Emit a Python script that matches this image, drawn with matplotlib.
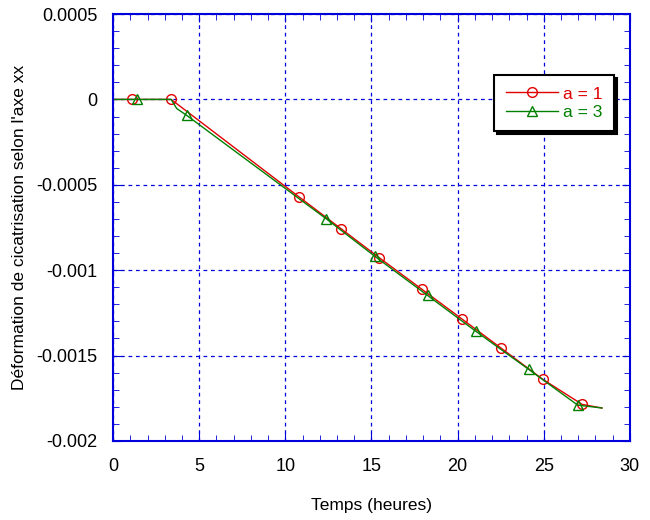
import matplotlib
matplotlib.use("Agg")
import matplotlib.pyplot as plt
from matplotlib.ticker import MultipleLocator, FuncFormatter

plt.rcParams['font.family'] = ['Liberation Sans', 'DejaVu Sans']

# courbe a = 1 (premier et dernier points sans marqueur)
t_a1 = [0, 1.09, 3.37, 10.81, 13.23, 15.45, 17.93, 20.23, 22.52, 24.93, 27.23, 28.38]
d_a1 = [0, 0, 0, -0.000572, -0.000757, -0.000927, -0.001112, -0.001284,
        -0.001456, -0.001638, -0.001786, -0.001807]

# courbe a = 3
t_a3 = [0, 1.38, 3.37, 3.69, 4.28, 12.36, 15.2, 18.26, 21.06, 24.13, 26.97, 28.38]
d_a3 = [0, 0, 0, -0.000053, -0.000094, -0.000698, -0.000919, -0.001148,
        -0.001358, -0.001581, -0.00179, -0.001807]

fig = plt.figure(figsize=(6.5, 5.2), dpi=100)
ax = fig.add_axes([0.174, 0.152, 0.795, 0.821])

bleu = '#0000dd'
ax.plot(t_a1, d_a1, color='#e00000', lw=1, marker='o', ms=7, mfc='none',
        mec='#e00000', markevery=list(range(1, 11)), label='a = 1')
ax.plot(t_a3, d_a3, color='#008000', lw=1, marker='^', ms=7, mfc='none',
        mec='#008000', markevery=[1, 4, 5, 6, 7, 8, 9, 10], label='a = 3')

ax.set_xlim(0, 30)
ax.set_ylim(-0.002, 0.0005)
ax.xaxis.set_major_locator(MultipleLocator(5))
ax.xaxis.set_minor_locator(MultipleLocator(1))
ax.yaxis.set_major_locator(MultipleLocator(0.0005))
ax.yaxis.set_minor_locator(MultipleLocator(0.0001))
ax.yaxis.set_major_formatter(FuncFormatter(lambda v, p: '%g' % v))

ax.grid(True, which='major', color=bleu, ls=(0, (3, 3)), lw=0.9)
for s in ax.spines.values():
    s.set_color(bleu)
    s.set_linewidth(1.5)
ax.tick_params(which='both', direction='in', top=True, right=True, color=bleu)
ax.tick_params(which='major', length=6, labelsize=13)
ax.tick_params(axis='x', which='major', pad=12)
ax.tick_params(axis='y', which='major', pad=11)
ax.tick_params(which='minor', length=4)

ax.set_xlabel('Temps (heures)', fontsize=12.5, labelpad=17)
ax.set_ylabel("Déformation de cicatrisation selon l'axe xx", fontsize=12.5, labelpad=7)

leg = ax.legend(loc='upper right', bbox_to_anchor=(0.969, 0.857), borderaxespad=0,
                fontsize=12.5, fancybox=False,
                shadow={'color': 'black', 'alpha': 1, 'ox': 2, 'oy': -2},
                edgecolor='black', framealpha=1, labelcolor='linecolor',
                handlelength=3.0, borderpad=0.65, labelspacing=0.2,
                handletextpad=0.3)
leg.get_frame().set_linewidth(1.5)

fig.savefig('out.png', dpi=100)
